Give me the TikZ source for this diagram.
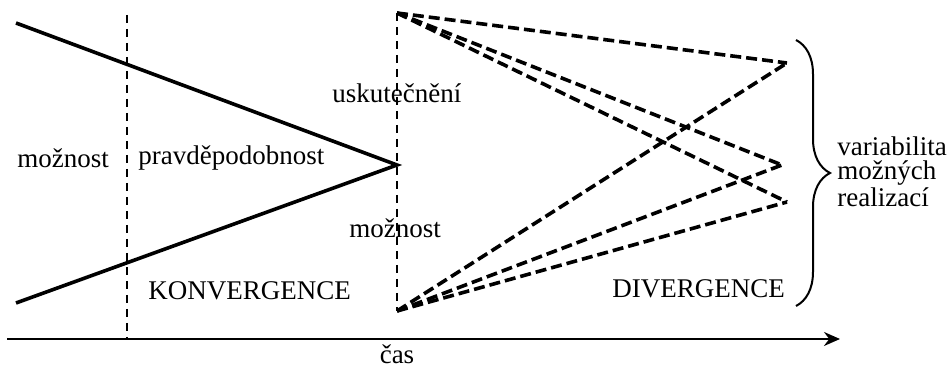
\documentclass[tikz,border=0pt]{standalone}
\usepackage{fontspec}
\setmainfont{Liberation Serif}
\usetikzlibrary{arrows.meta,decorations.pathreplacing}

\begin{document}
\begin{tikzpicture}[x=0.5pt,y=-0.5pt,
  txt/.style={inner sep=0pt,anchor=west,font=\fontsize{13.5}{12}\selectfont},
  cone/.style={line width=1.8pt},
  split/.style={line width=1.8pt,dash pattern=on 5.5pt off 2.5pt},
  border/.style={line width=0.9pt,dash pattern=on 4pt off 3pt}]
\useasboundingbox (0,0) rectangle (950,367);
% points
\coordinate (in1) at (16,23);
\coordinate (in2) at (16,303);
\coordinate (apex) at (397,165);
\coordinate (top) at (397,13);
\coordinate (bot) at (397,311);
\coordinate (out1) at (787,63);
\coordinate (out2) at (782,165);
\coordinate (out3) at (787,202);
\coordinate (t0) at (7,339);
\coordinate (t1) at (840,339);
\coordinate (b0) at (127,15);
\coordinate (b1) at (127,339);
% texts
\node[txt] (poss) at (17,158) {možnost};
\node[txt] (prob) at (138,158) {pravděpodobnost};
\node[txt] (real) at (332,93) {uskutečnění};
\node[txt] (poss2) at (349,228) {možnost};
\node[txt] (conv) at (148,291) {KONVERGENCE};
\node[txt] (div) at (612,289) {DIVERGENCE};
\node[txt,anchor=base] (time) at (397,364) {čas};
\node[txt,align=left] (var) at (837,172) {variabilita\\možných\\realizací};
% convergence
\draw[cone] (in1) -- (apex) -- (in2);
\draw[border] (b0) -- (b1);
\draw[border] (top) -- (bot);
% divergence
\foreach \o in {out1,out2,out3}
  \draw[split] (top) -- (\o) (bot) -- (\o);
\draw[line width=1pt,-{Stealth[length=8pt,width=7pt]}] (t0) -- (t1);
\draw[line width=1pt,decorate,decoration={brace,amplitude=17pt}]
  (796,40) -- (796,306);
\end{tikzpicture}
\end{document}
